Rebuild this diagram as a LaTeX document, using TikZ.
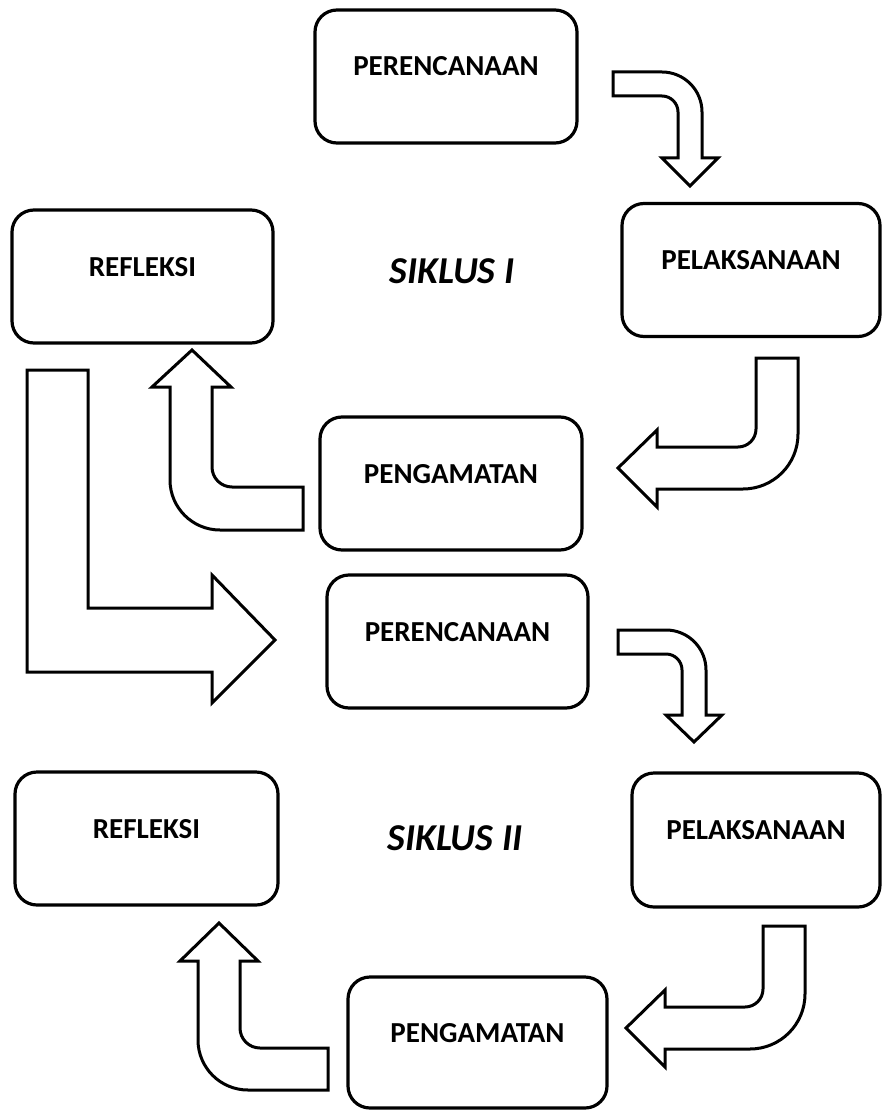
\documentclass[tikz,border=0pt]{standalone}
\usepackage{fontspec}
\setmainfont{Carlito}
\begin{document}
\begin{tikzpicture}[x=1pt,y=-1pt,
  box/.style={draw, line width=3.2pt, rounded corners=22pt, inner sep=0pt,
    font=\fontsize{29}{34}\selectfont\bfseries, text height=19pt, text depth=20pt,
    minimum height=133pt},
  siklus/.style={font=\fontsize{38}{44}\selectfont\bfseries\itshape},
  blockarrow/.style={draw, line width=3pt, fill=white, line join=miter}]
\useasboundingbox (0,0) rectangle (883,1110);

% boxes
\node[box, minimum width=262pt] (p1) at (446,76.5) {PERENCANAAN};
\node[box, minimum width=261pt] (r1) at (142.5,276.5) {REFLEKSI};
\node[box, minimum width=258pt] (l1) at (751,270) {PELAKSANAAN};
\node[box, minimum width=262pt] (g1) at (451,483.5) {PENGAMATAN};
\node[box, minimum width=261pt] (p2) at (457.5,641.5) {PERENCANAAN};
\node[box, minimum width=263pt] (r2) at (146.5,838.5) {REFLEKSI};
\node[box, minimum width=248pt, minimum height=134pt] (l2) at (756,840) {PELAKSANAAN};
\node[box, minimum width=259pt, minimum height=131pt] (g2) at (477.5,1042.5) {PENGAMATAN};

\node[siklus] (s1) at (452,271) {SIKLUS I};
\node[siklus] (s2) at (455,838) {SIKLUS II};

% arrow p1 -> l1
\draw[blockarrow] (613,72) -- (662,72) arc[start angle=-90, end angle=0, radius=40]
  -- (702,158) -- (718,158) -- (690,186) -- (662,158) -- (678,158) -- (678,112)
  arc[start angle=0, end angle=-90, radius=16] -- (613,96) -- cycle;

% arrow l1 -> g1
\draw[blockarrow] (756,358) -- (798,358) -- (798,434) arc[start angle=0, end angle=90, radius=55]
  -- (657,489) -- (657,507) -- (618,468) -- (657,430) -- (657,447) -- (738,447)
  arc[start angle=90, end angle=0, radius=18] -- cycle;

% arrow g1 -> r1
\draw[blockarrow] (192,350) -- (231,387) -- (212,387) -- (212,467)
  arc[start angle=180, end angle=90, radius=20] -- (303,487) -- (303,530) -- (220,530)
  arc[start angle=90, end angle=180, radius=50] -- (170,387) -- (152,387) -- cycle;

% arrow r1 -> p2
\draw[blockarrow] (27,370) -- (88,370) -- (88,608) -- (212,608) -- (212,575) -- (275,640)
  -- (212,703) -- (212,672) -- (27,672) -- cycle;

% arrow p2 -> l2
\draw[blockarrow] (618,630) -- (666,630) arc[start angle=-90, end angle=0, radius=40]
  -- (706,715) -- (722,715) -- (694,742) -- (666,715) -- (682,715) -- (682,670)
  arc[start angle=0, end angle=-90, radius=16] -- (618,654) -- cycle;

% arrow l2 -> g2
\draw[blockarrow] (763,926) -- (805,926) -- (805,994) arc[start angle=0, end angle=90, radius=55]
  -- (665,1049) -- (665,1067) -- (626,1028) -- (665,990) -- (665,1007) -- (745,1007)
  arc[start angle=90, end angle=0, radius=18] -- cycle;

% arrow g2 -> r2
\draw[blockarrow] (219,923) -- (258,961) -- (240,961) -- (240,1028)
  arc[start angle=180, end angle=90, radius=20] -- (328,1048) -- (328,1090) -- (248,1090)
  arc[start angle=90, end angle=180, radius=50] -- (198,961) -- (180,961) -- cycle;
\end{tikzpicture}
\end{document}
